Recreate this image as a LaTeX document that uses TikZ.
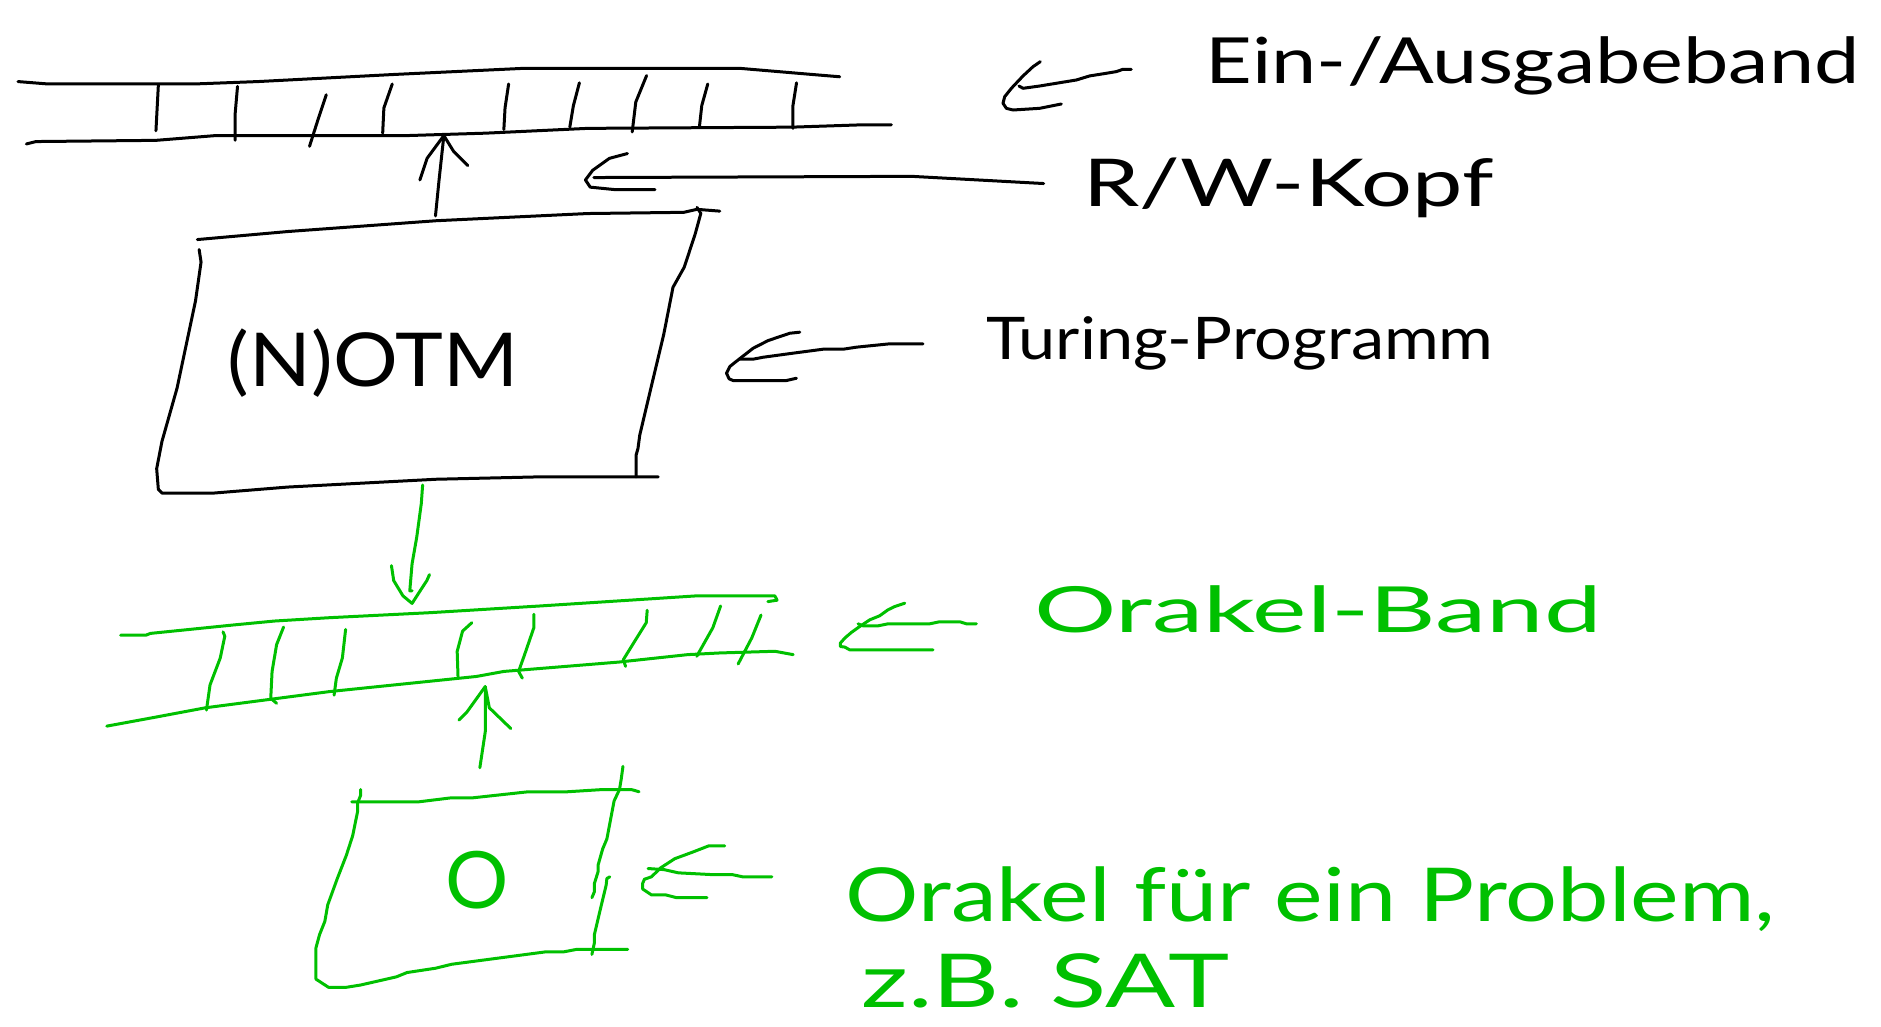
\documentclass[tikz,border=0pt]{standalone}
\usepackage{fontspec}
\setmainfont{Lato}
\usepackage{graphicx}
\definecolor{orakelgreen}{RGB}{0,192,0}
\newcommand{\fitw}[3]{\resizebox{#1pt}{\height}{\fontsize{#2}{#2}\selectfont #3}}
\begin{document}
\begin{tikzpicture}[x=1pt,y=-1pt,
  pen/.style={line width=2.5pt, line cap=round, line join=round},
  bpen/.style={pen, draw=black},
  gpen/.style={pen, draw=orakelgreen},
  lbl/.style={anchor=base west, inner sep=0pt, outer sep=0pt},
  blbl/.style={lbl, text=black},
  glbl/.style={lbl, text=orakelgreen}]
\useasboundingbox (0,0) rectangle (1568,856);

% ---------- top tape (Ein-/Ausgabeband) ----------
\draw[bpen] (15,68) -- (40,70) -- (162,70) -- (215,68) -- (330,62) -- (436,57) -- (617,57) -- (676,62) -- (700,64);
\draw[bpen] (22,120) -- (30,118) -- (130,117) -- (180,113) -- (340,113) -- (405,111) -- (490,107) -- (660,106) -- (720,104) -- (743,104);
\foreach \p in {
  {(132,71) -- (131,90) -- (130,109)},
  {(198,72) -- (196,95) -- (196,117)},
  {(272,79) -- (265,100) -- (258,122)},
  {(327,70) -- (320,90) -- (319,111)},
  {(424,70) -- (421,90) -- (420,108)},
  {(483,69) -- (478,88) -- (475,106)},
  {(539,63) -- (530,85) -- (527,110)},
  {(590,70) -- (585,88) -- (583,106)},
  {(664,69) -- (661,88) -- (661,107)}}
  {\draw[bpen] \p;}

% ---------- (N)OTM box ----------
\draw[bpen] (164.5,199.7) -- (240,193) -- (363.6,184) -- (490,178) -- (570,177) -- (581,174.5) -- (600,176);
\draw[bpen] (166,208) -- (167.6,218.5) -- (163,250.7) -- (147.6,323.5) -- (135,368) -- (130.6,390.7) -- (132,408) -- (135,411)
  -- (178.4,411) -- (240,406) -- (363.6,399.5) -- (450,397.5) -- (548.7,397.5);
\draw[bpen] (581,172.9) -- (584.2,177.9) -- (579.6,194.7) -- (570.4,222.7) -- (561,239.5) -- (553.3,278.7) -- (542.6,323.5)
  -- (533.3,362.7) -- (531.8,373.9) -- (530.2,379.5) -- (530.2,397.5);
\node[blbl] (otm) at (190,322) {\fitw{242}{62}{(N)OTM}};

% head arrow (box -> top tape)
\coordinate (headbase) at (363,180);
\coordinate (headtip) at (370,113);
\draw[bpen] (headbase) -- (366,150) -- (headtip);
\draw[bpen] (350,150) -- (356,132) -- (headtip) -- (378,126) -- (390,138);

% ---------- black labels with arrows ----------
\node[blbl] (einaus) at (1005,70) {\fitw{545}{53}{Ein-/Ausgabeband}};
\coordinate (einA) at (943,57.8);
\draw[bpen] (einA) -- (936,57.8) -- (930.6,59.7) -- (922.2,61.1) -- (908.3,63.3) -- (897.2,66.7) -- (880.6,69.4) -- (866.7,71.7) -- (852.8,73.6) -- (849.4,71.7);
\draw[bpen] (867.2,51.4) -- (861.1,55.6) -- (852.8,63.3) -- (843.1,73.6) -- (837.5,80.6) -- (836.1,86.1) -- (838.9,90.3) -- (844.4,91.7) -- (866.7,90.3) -- (884.7,86.7);

\node[blbl] (rwkopf) at (903,172) {\fitw{342}{55}{R/W-Kopf}};
\coordinate (rwA) at (870,153);
\draw[bpen] (rwA) -- (760,147) -- (495,148);
\draw[bpen] (523,128) -- (508,132) -- (494,142) -- (488,150) -- (492,156) -- (512,158) -- (546,158);

\node[blbl] (turing) at (822,300) {\fitw{423}{49}{Turing-Programm}};
\coordinate (turA) at (769.4,286.6);
\draw[bpen] (turA) -- (741.7,286.6) -- (713.9,289.4) -- (702.8,291.1) -- (686.1,291.1) -- (661.1,294.4) -- (636.1,297.8) -- (627.8,299.4) -- (616.7,299.4);
\draw[bpen] (666.7,276.9) -- (658.3,277.8) -- (640.3,283.9) -- (627.8,290.3) -- (616.1,299.4) -- (608.4,305.5) -- (605.6,311.1) -- (607.8,315.8) -- (611.1,317.2) -- (655.6,317.2) -- (663.9,315.3);

% ---------- oracle tape (green) ----------
\coordinate (orA) at (352.3,404.3);
\draw[gpen] (orA) -- (351.2,419.7) -- (347.4,447.7) -- (343.5,470) -- (341.6,492.5) -- (343.5,492.5);
\draw[gpen] (326.3,471.5) -- (328.2,484) -- (335.9,496.7) -- (343.5,503) -- (351.2,491) -- (355.8,484) -- (358,479);

\draw[gpen] (100.5,529.5) -- (121.6,529.5) -- (125.4,528) -- (194.3,521) -- (228.7,517.7) -- (274.7,514.9) -- (358.9,510.7) -- (450.7,505.1) -- (580.8,496.7) -- (645.9,496.7) -- (647.8,500.3) -- (640.1,501.5);
\draw[gpen] (89,605.3) -- (129.2,597.9) -- (171.3,590) -- (274.7,576.5) -- (397.1,563.9) -- (420,559.7) -- (515.8,551.9) -- (573.2,545.7) -- (600,544.3) -- (645.9,542.9) -- (661.2,545.7);
\foreach \p in {
  {(185.9,526.7) -- (187.4,530.3) -- (183.6,548.5) -- (175.1,570.9) -- (172.1,591.9)},
  {(236.4,522.7) -- (230.6,537.3) -- (226.8,559.7) -- (225.7,582.1) -- (230.6,586.3)},
  {(288.1,524.7) -- (285.4,548.5) -- (280.4,565.3) -- (278.5,579.5)},
  {(393.3,519.1) -- (385.6,526.1) -- (381.1,543) -- (381.8,563.9)},
  {(445,512.1) -- (445,523.3) -- (437.3,545.7) -- (432.3,559.7) -- (435.4,565.3)},
  {(539.5,508.7) -- (538.7,519.1) -- (529.1,534.5) -- (519.6,549.9) -- (521.5,555.5)},
  {(600.7,505.1) -- (594.2,523.3) -- (580.8,547.1)},
  {(634.4,512.7) -- (626.7,531.7) -- (615.3,553.5)}}
  {\draw[gpen] \p;}

\node[glbl] (orband) at (862,527) {\fitw{473}{53}{Orakel-Band}};
\coordinate (obA) at (813.9,520);
\draw[gpen] (obA) -- (805.6,520) -- (800,518.3) -- (783.3,518.3) -- (775,520) -- (740.3,520) -- (731.9,521.7) -- (719.4,521.7) -- (715.3,520);
\draw[gpen] (754.2,502.8) -- (745.8,505.6) -- (740.3,508.3) -- (733.3,513.3) -- (725,516.7) -- (716.7,522.2) -- (709.7,527.2) -- (704.2,531.9) -- (700.5,536.1) -- (700.5,538.9) -- (704.2,539.4) -- (708.3,541.7) -- (777.8,541.7);

% up arrow oracle -> oracle tape
\coordinate (oupbase) at (400,640);
\coordinate (ouptip) at (404.5,572.3);
\draw[gpen] (oupbase) -- (404.7,608.7) -- (ouptip);
\draw[gpen] (382.6,600.3) -- (389.4,593.3) -- (ouptip) -- (407.9,590) -- (425.8,607.3);

% ---------- oracle box ----------
\draw[gpen] (293.2,668.5) -- (348.2,668.5) -- (375,665.2) -- (392.8,665.2) -- (440.5,660) -- (473.2,660) -- (500,658.3) -- (526.8,658.3) -- (532.7,660);
\draw[gpen] (300.6,658.1) -- (300.6,663) -- (298.2,669.1) -- (298.2,675.9) -- (294,696.6) -- (288.7,713) -- (281.2,732.3) -- (273.2,754.3) -- (270.8,768) -- (266.4,779) -- (263.4,790) -- (263.4,816.2) -- (273.8,823) -- (288.7,823)
  -- (300.6,821.1) -- (330.4,814.3) -- (339.3,810.7) -- (363.1,807.1) -- (376.5,803.8) -- (455.3,793.4) -- (470.2,793.4) -- (480.6,791.4) -- (523.2,791.4);
\draw[gpen] (519.3,638.8) -- (517.8,649.8) -- (516.4,658.1) -- (511.9,667.7) -- (505.9,699.3) -- (502.4,707.6) -- (498.5,721.3) -- (498.5,726.8) -- (495.5,736.4) -- (495.5,743.3) -- (493.4,748.3);
\draw[gpen] (508.3,730.9) -- (505.9,732.3) -- (505.3,737.8) -- (500,759.8) -- (495.5,779) -- (495.5,785.9) -- (493.4,795.6);
\node[text=orakelgreen, inner sep=0pt, font=\fontsize{66}{66}\selectfont] (oracle) at (398,734) {O};

\coordinate (oA) at (643.4,730.9);
\draw[gpen] (oA) -- (619,730.9) -- (610.1,729) -- (592.2,729) -- (565.5,727.6) -- (553.5,724.9) -- (540.2,724);
\draw[gpen] (604.1,705.1) -- (590.8,705.1) -- (577.4,710.3) -- (562.5,715.8) -- (550.6,723.5) -- (543.1,730.9) -- (537.2,732.9) -- (535.7,736.4) -- (535.7,741.1) -- (543.1,746) -- (555,746) -- (564,748.3) -- (589.3,748.3);

\node[glbl] (orprob) at (705,768) {\fitw{775}{62}{Orakel für ein Problem,}};
\node[glbl] (sat) at (718,840) {\fitw{307}{62}{z.B. SAT}};
\end{tikzpicture}
\end{document}
